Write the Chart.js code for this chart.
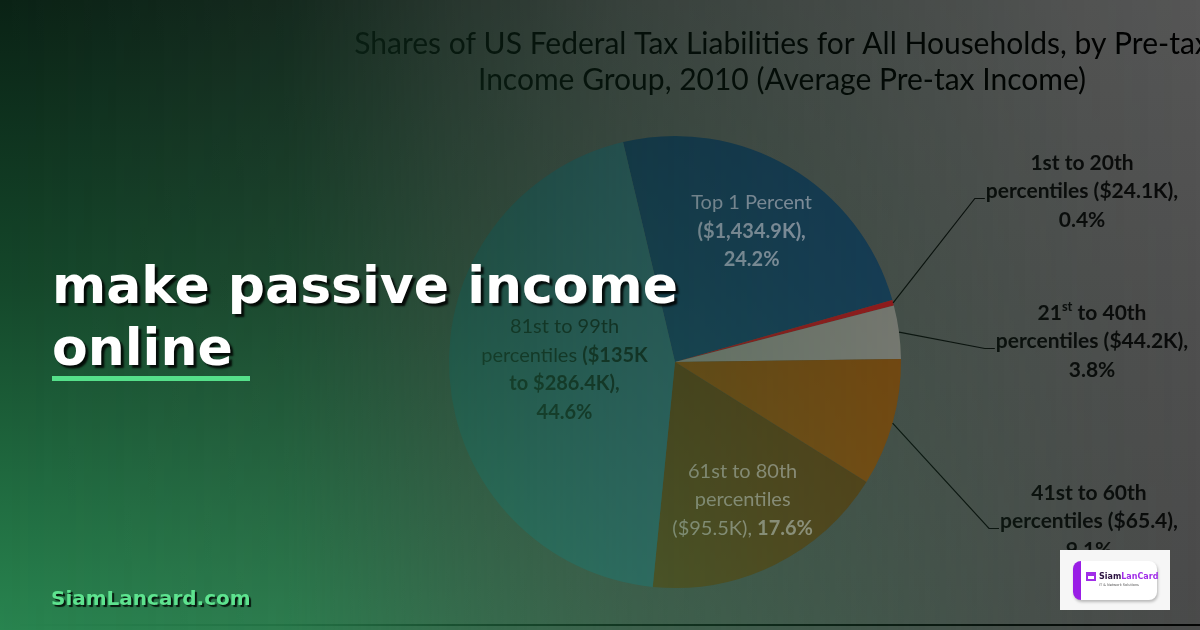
<!DOCTYPE html>
<html>
<head>
<meta charset="utf-8">
<script src="https://cdn.jsdelivr.net/npm/chart.js@4"></script>
<style>
  html, body { margin: 0; padding: 0; }
  body {
    width: 1200px; height: 630px; overflow: hidden; position: relative;
    background: linear-gradient(180deg, #565656 0%, #4f4f4f 50%, #4a4a4a 100%);
  }
  #wrap { position: absolute; left: 0; top: 0; width: 1200px; height: 624px; border-bottom: 2px solid #050505; }
  #shade {
    position: absolute; left: 0; top: 0; width: 1200px; height: 630px;
    background: linear-gradient(180deg, #0a2215 0%, #14472a 45%, #28844f 100%);
    -webkit-mask-image: linear-gradient(90deg, rgba(0,0,0,1) 0%, rgba(0,0,0,.86) 24%, rgba(0,0,0,.6) 38%,
      rgba(0,0,0,.4) 52%, rgba(0,0,0,.22) 72%, rgba(0,0,0,.06) 90%, rgba(0,0,0,0) 100%);
  }
  .headline {
    position: absolute; left: 52px; top: 254px;
    font: bold 52px/62px "DejaVu Sans", sans-serif; color: #fff;
    text-shadow: 3px 3px 2px rgba(0,0,0,.85);
    white-space: nowrap;
  }
  .bar { position: absolute; left: 52px; top: 376px; width: 198px; height: 5px; background: #55e08a; }
  .site {
    position: absolute; left: 51px; top: 586px;
    font: bold 20px/24px "DejaVu Sans", sans-serif; color: #5ee38f;
    text-shadow: 2px 2px 1px rgba(0,0,0,.8);
  }
  .logo { position: absolute; left: 1060px; top: 550px; width: 110px; height: 60px; background: #f6f6f6; }
  .card {
    position: absolute; left: 13px; top: 11px; width: 76px; height: 39px;
    background: #fff; border-left: 8px solid #9a1ee6; border-radius: 8px;
    box-shadow: 1px 2px 3px rgba(0,0,0,.25);
  }
  .icon { position: absolute; left: 5px; top: 11px; width: 10px; height: 9px; border: 2px solid #a12ee8; border-top-width: 4px; box-sizing: border-box; }
  .brand { position: absolute; left: 18px; top: 11px; font: bold 8px "DejaVu Sans", sans-serif; color: #2b1240; white-space: nowrap; }
  .brand span { color: #a12ee8; }
  .sub { position: absolute; left: 18px; top: 22px; font: 3.5px "DejaVu Sans", sans-serif; color: #555; white-space: nowrap; }
</style>
</head>
<body>
<div id="wrap"><canvas id="taxChart" width="1200" height="624"></canvas></div>
<div id="shade"></div>
<div class="headline">make passive income<br>online</div>
<div class="bar"></div>
<div class="site">SiamLancard.com</div>
<div class="logo"><div class="card"><div class="icon"></div><div class="brand">Siam<span>LanCard</span></div><div class="sub">IT &amp; Network Solutions</div></div></div>

<script>
const categories = ['Top 1 Percent', '1st to 20th', '21st to 40th', '41st to 60th', '61st to 80th', '81st to 99th'];
const avgIncome = ['$1,434.9K', '$24.1K', '$44.2K', '$65.4', '$95.5K', '$135K to $286.4K'];
const shares = [24.2, 0.4, 3.8, 9.1, 17.6, 44.6];
const sliceColors = ['#173a5e', '#ac1019', '#8b817f', '#86450a', '#5e3a12', '#32606c'];
const titleLines = ['Shares of US Federal Tax Liabilities for All Households, by Pre-tax',
                    'Income Group, 2010 (Average Pre-tax Income)'];

function pct(i) { return shares[i].toFixed(1) + '%'; }

// label lines: each line is a list of [text, bold, superscript]
const labelLines = [
    [[[categories[0]]], [['(' + avgIncome[0] + '),', 1]], [[pct(0), 1]]],
    [[[categories[1], 1]], [['percentiles (' + avgIncome[1] + '),', 1]], [[pct(1), 1]]],
    [[['21', 1], ['st', 1, 1], [' to 40th', 1]], [['percentiles (' + avgIncome[2] + '),', 1]], [[pct(2), 1]]],
    [[[categories[3], 1]], [['percentiles (' + avgIncome[3] + '),', 1]], [[pct(3), 1]]],
    [[[categories[4]]], [['percentiles']], [['(' + avgIncome[4] + '), '], [pct(4), 1]]],
    [[[categories[5]]], [['percentiles '], ['(' + avgIncome[5].split(' to ')[0], 1]],
        [['to ' + avgIncome[5].split(' to ')[1] + '),', 1]], [[pct(5), 1]]]
];

// where each label goes
const insideLabels = { 0: { r: 0.67, color: '#a3a7c1' }, 4: { r: 0.68, color: '#b0998c' }, 5: { r: 0.49, color: '#10201e' } };
const outsideLabels = { 1: { dx: 407, dy: -199 }, 2: { dx: 417, dy: -49 }, 3: { dx: 414, dy: 131 } };
const FONT = 'Lato, "Liberation Sans", sans-serif';

function segFont(seg, size) {
    const s = seg[2] ? Math.round(size * 0.6) : size;
    return (seg[1] ? 'bold ' : '') + s + 'px ' + FONT;
}
function lineWidth(ctx, line, size) {
    let w = 0;
    line.forEach(seg => { ctx.font = segFont(seg, size); w += ctx.measureText(seg[0]).width; });
    return w;
}
function drawLine(ctx, line, cx, y, size) {
    let x = cx - lineWidth(ctx, line, size) / 2;
    line.forEach(seg => {
        ctx.font = segFont(seg, size);
        ctx.fillText(seg[0], x, seg[2] ? y - size * 0.3 : y);
        x += ctx.measureText(seg[0]).width;
    });
}

const sliceLabelPlugin = {
    id: 'sliceLabels',
    afterDatasetsDraw(chart) {
        const ctx = chart.ctx;
        const arcs = chart.getDatasetMeta(0).data;
        ctx.save();
        ctx.textAlign = 'left';
        ctx.textBaseline = 'middle';
        arcs.forEach((arc, i) => {
            const p = arc.getProps(['x', 'y', 'startAngle', 'endAngle', 'outerRadius'], true);
            const mid = (p.startAngle + p.endAngle) / 2;
            const lines = labelLines[i];
            const gap = 28.5;
            if (insideLabels[i]) {
                const rr = p.outerRadius * insideLabels[i].r;
                const bx = p.x + rr * Math.cos(mid);
                const by = p.y + rr * Math.sin(mid);
                ctx.fillStyle = insideLabels[i].color;
                lines.forEach((ln, k) => drawLine(ctx, ln, bx, by + (k - (lines.length - 1) / 2) * gap, 20));
            } else if (outsideLabels[i]) {
                const o = outsideLabels[i];
                const lx = p.x + o.dx;
                const ly = p.y + o.dy;
                ctx.fillStyle = '#0a0a0a';
                lines.forEach((ln, k) => drawLine(ctx, ln, lx, ly + k * gap, 21));
                const left = lx - lineWidth(ctx, lines[1], 21) / 2;
                const yy = ly + gap + 7;
                ctx.strokeStyle = '#0a0a0a';
                ctx.lineWidth = 1.2;
                ctx.beginPath();
                ctx.moveTo(p.x + p.outerRadius * Math.cos(mid), p.y + p.outerRadius * Math.sin(mid));
                ctx.lineTo(left - 11, yy);
                ctx.lineTo(left - 1, yy);
                ctx.stroke();
            }
        });
        ctx.restore();
    }
};

const titlePlugin = {
    id: 'chartTitle',
    afterDraw(chart) {
        const ctx = chart.ctx;
        ctx.save();
        ctx.fillStyle = '#000';
        ctx.font = '30px ' + FONT;
        ctx.textAlign = 'center';
        ctx.textBaseline = 'middle';
        titleLines.forEach((t, k) => ctx.fillText(t, 782, 44 + k * 36));
        ctx.restore();
    }
};

new Chart(document.getElementById('taxChart'), {
    type: 'pie',
    data: {
        labels: categories,
        datasets: [{
            data: shares,
            backgroundColor: sliceColors,
            borderWidth: 0
        }]
    },
    options: {
        responsive: false,
        animation: false,
        rotation: -13.3,
        layout: { padding: { left: 449, right: 299, top: 136, bottom: 36 } },
        plugins: { legend: { display: false }, tooltip: { enabled: false } }
    },
    plugins: [sliceLabelPlugin, titlePlugin]
});
</script>
</body>
</html>
